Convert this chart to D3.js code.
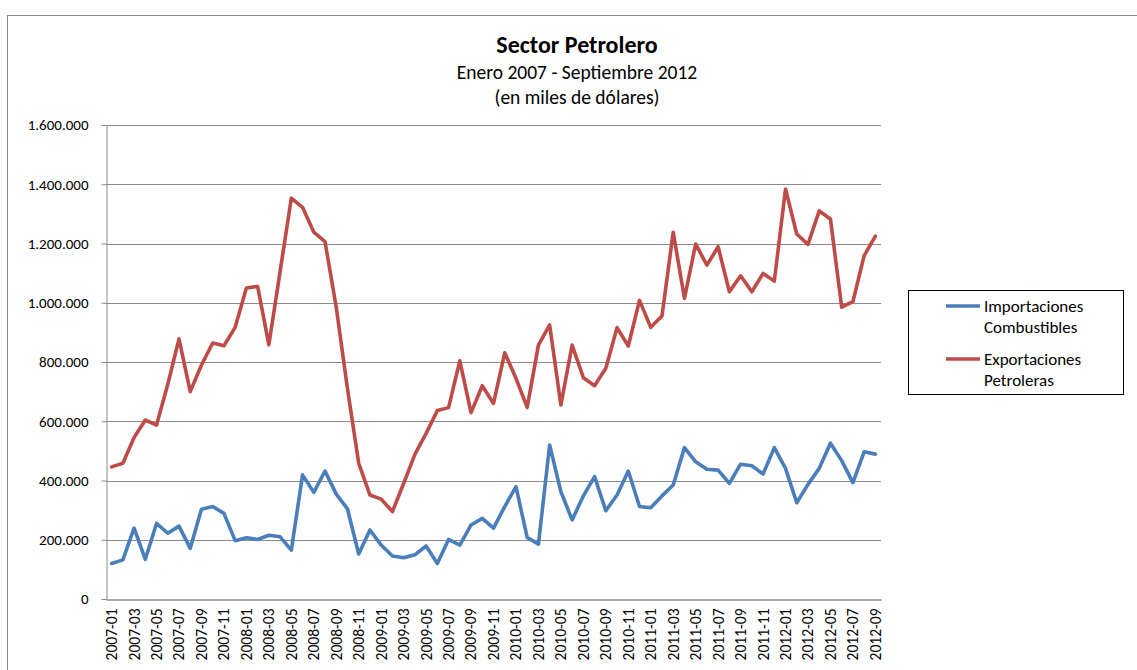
<!DOCTYPE html>
<html>
<head>
<meta charset="utf-8">
<script src="https://cdn.jsdelivr.net/npm/d3@7"></script>
<style>
  html, body { margin: 0; padding: 0; background: #fff; }
  svg { display: block; font-family: Carlito, Calibri, Lato, "Open Sans", sans-serif; }
</style>
</head>
<body>
<svg id="chart" width="1137" height="670"></svg>
<script>
const months = [
  "2007-01","2007-02","2007-03","2007-04","2007-05","2007-06","2007-07","2007-08","2007-09","2007-10","2007-11","2007-12",
  "2008-01","2008-02","2008-03","2008-04","2008-05","2008-06","2008-07","2008-08","2008-09","2008-10","2008-11","2008-12",
  "2009-01","2009-02","2009-03","2009-04","2009-05","2009-06","2009-07","2009-08","2009-09","2009-10","2009-11","2009-12",
  "2010-01","2010-02","2010-03","2010-04","2010-05","2010-06","2010-07","2010-08","2010-09","2010-10","2010-11","2010-12",
  "2011-01","2011-02","2011-03","2011-04","2011-05","2011-06","2011-07","2011-08","2011-09","2011-10","2011-11","2011-12",
  "2012-01","2012-02","2012-03","2012-04","2012-05","2012-06","2012-07","2012-08","2012-09"
];
const importaciones = [
  120000,132000,239000,134000,255000,222000,246000,171000,303000,312000,289000,197000,
  207000,201000,215000,210000,165000,419000,360000,432000,354000,304000,152000,233000,
  182000,145000,139000,149000,179000,120000,201000,182000,250000,272000,239000,312000,
  379000,208000,185000,520000,362000,267000,348000,413000,298000,351000,432000,312000,
  308000,348000,385000,511000,463000,438000,435000,390000,455000,450000,422000,511000,
  441000,325000,387000,441000,526000,467000,393000,497000,489000
];
const exportaciones = [
  446000,458000,545000,604000,587000,725000,878000,700000,790000,864000,855000,917000,
  1050000,1055000,858000,1105000,1353000,1322000,1238000,1206000,985000,710000,458000,351000,
  337000,295000,390000,488000,559000,636000,646000,804000,629000,720000,660000,831000,
  745000,647000,857000,925000,655000,857000,747000,720000,779000,916000,854000,1008000,
  917000,955000,1238000,1015000,1198000,1127000,1189000,1037000,1091000,1037000,1099000,1073000,
  1384000,1232000,1197000,1310000,1283000,985000,1004000,1159000,1225000
];
const yTicks = [0,200000,400000,600000,800000,1000000,1200000,1400000,1600000];
const seriesNames = [["Importaciones","Combustibles"],["Exportaciones","Petroleras"]];
const seriesColors = ["#4a7ebb","#be4b48"];
const titleText = "Sector Petrolero";
const subtitleLines = ["Enero 2007 - Septiembre 2012","(en miles de dólares)"];

const svg = d3.select("#chart");
const pLeft = 106, pRight = 881, pTop = 125, pBottom = 599;

// outer chart border
svg.append("rect").attr("x",7.5).attr("y",15.5).attr("width",1200).attr("height",800)
  .attr("fill","none").attr("stroke","#8c8c8c").attr("stroke-width",1);

const x = d3.scaleBand().domain(months).range([pLeft,pRight]).paddingInner(0).paddingOuter(0);
const y = d3.scaleLinear().domain([0,1600000]).range([pBottom,pTop]);
const cx = d => x(d) + x.bandwidth()/2;

const loc = d3.formatLocale({decimal:",", thousands:".", grouping:[3], currency:["",""]});
const fmt = loc.format(",.0f");

// gridlines
svg.append("g").selectAll("line").data(yTicks.filter(t=>t>0)).join("line")
  .attr("x1",pLeft).attr("x2",pRight)
  .attr("y1",d=>Math.round(y(d))+0.5).attr("y2",d=>Math.round(y(d))+0.5)
  .attr("stroke","#8c8c8c").attr("stroke-width",1);

// y axis
const yAxis = svg.append("g").attr("transform",`translate(${pLeft+0.5},0)`)
  .call(d3.axisLeft(y).tickValues(yTicks).tickFormat(fmt).tickSize(5).tickPadding(13));
yAxis.select(".domain").attr("stroke","#8c8c8c");
yAxis.selectAll(".tick line").attr("stroke","#8c8c8c");
yAxis.selectAll(".tick text").attr("font-size",15).attr("fill","#000")
  .attr("font-family","Carlito, Calibri, Lato, sans-serif");

// x axis
const labelMonths = months.filter((m,i)=>i%2===0);
const xAxis = svg.append("g").attr("transform",`translate(0,${pBottom+0.5})`)
  .call(d3.axisBottom(x).tickValues(labelMonths).tickSize(0).tickPadding(0));
xAxis.select(".domain").attr("stroke","#8c8c8c").attr("stroke-width",1.5);
xAxis.selectAll(".tick text")
  .attr("font-size",15.5).attr("fill","#000")
  .attr("font-family","Carlito, Calibri, Lato, sans-serif")
  .attr("text-anchor","end")
  .attr("transform","rotate(-90)")
  .attr("x",-9).attr("y",0).attr("dy","0.35em");

// lines
const line = d3.line().x((d,i)=>cx(months[i])).y(d=>y(d));
[importaciones, exportaciones].forEach((s,k)=>{
  svg.append("path").datum(s).attr("d",line)
    .attr("fill","none").attr("stroke",seriesColors[k]).attr("stroke-width",3.6)
    .attr("stroke-linejoin","round").attr("stroke-linecap","round");
});

// titles
svg.append("text").attr("x",577).attr("y",53).attr("text-anchor","middle")
  .attr("font-size",24).attr("font-weight","bold").text(titleText);
subtitleLines.forEach((t,i)=>{
  svg.append("text").attr("x",577).attr("y",79+i*25).attr("text-anchor","middle")
    .attr("font-size",19.5).text(t);
});

// legend
svg.append("rect").attr("x",908.5).attr("y",290.5).attr("width",215).attr("height",104)
  .attr("fill","#fff").attr("stroke","#000").attr("stroke-width",1);
seriesNames.forEach((nm,k)=>{
  const ly = 306 + k*53;
  svg.append("line").attr("x1",946).attr("x2",980).attr("y1",ly).attr("y2",ly)
    .attr("stroke",seriesColors[k]).attr("stroke-width",3.6);
  nm.forEach((t,j)=>{
    svg.append("text").attr("x",984).attr("y",ly+6+j*21).attr("font-size",17).text(t);
  });
});
</script>
</body>
</html>
